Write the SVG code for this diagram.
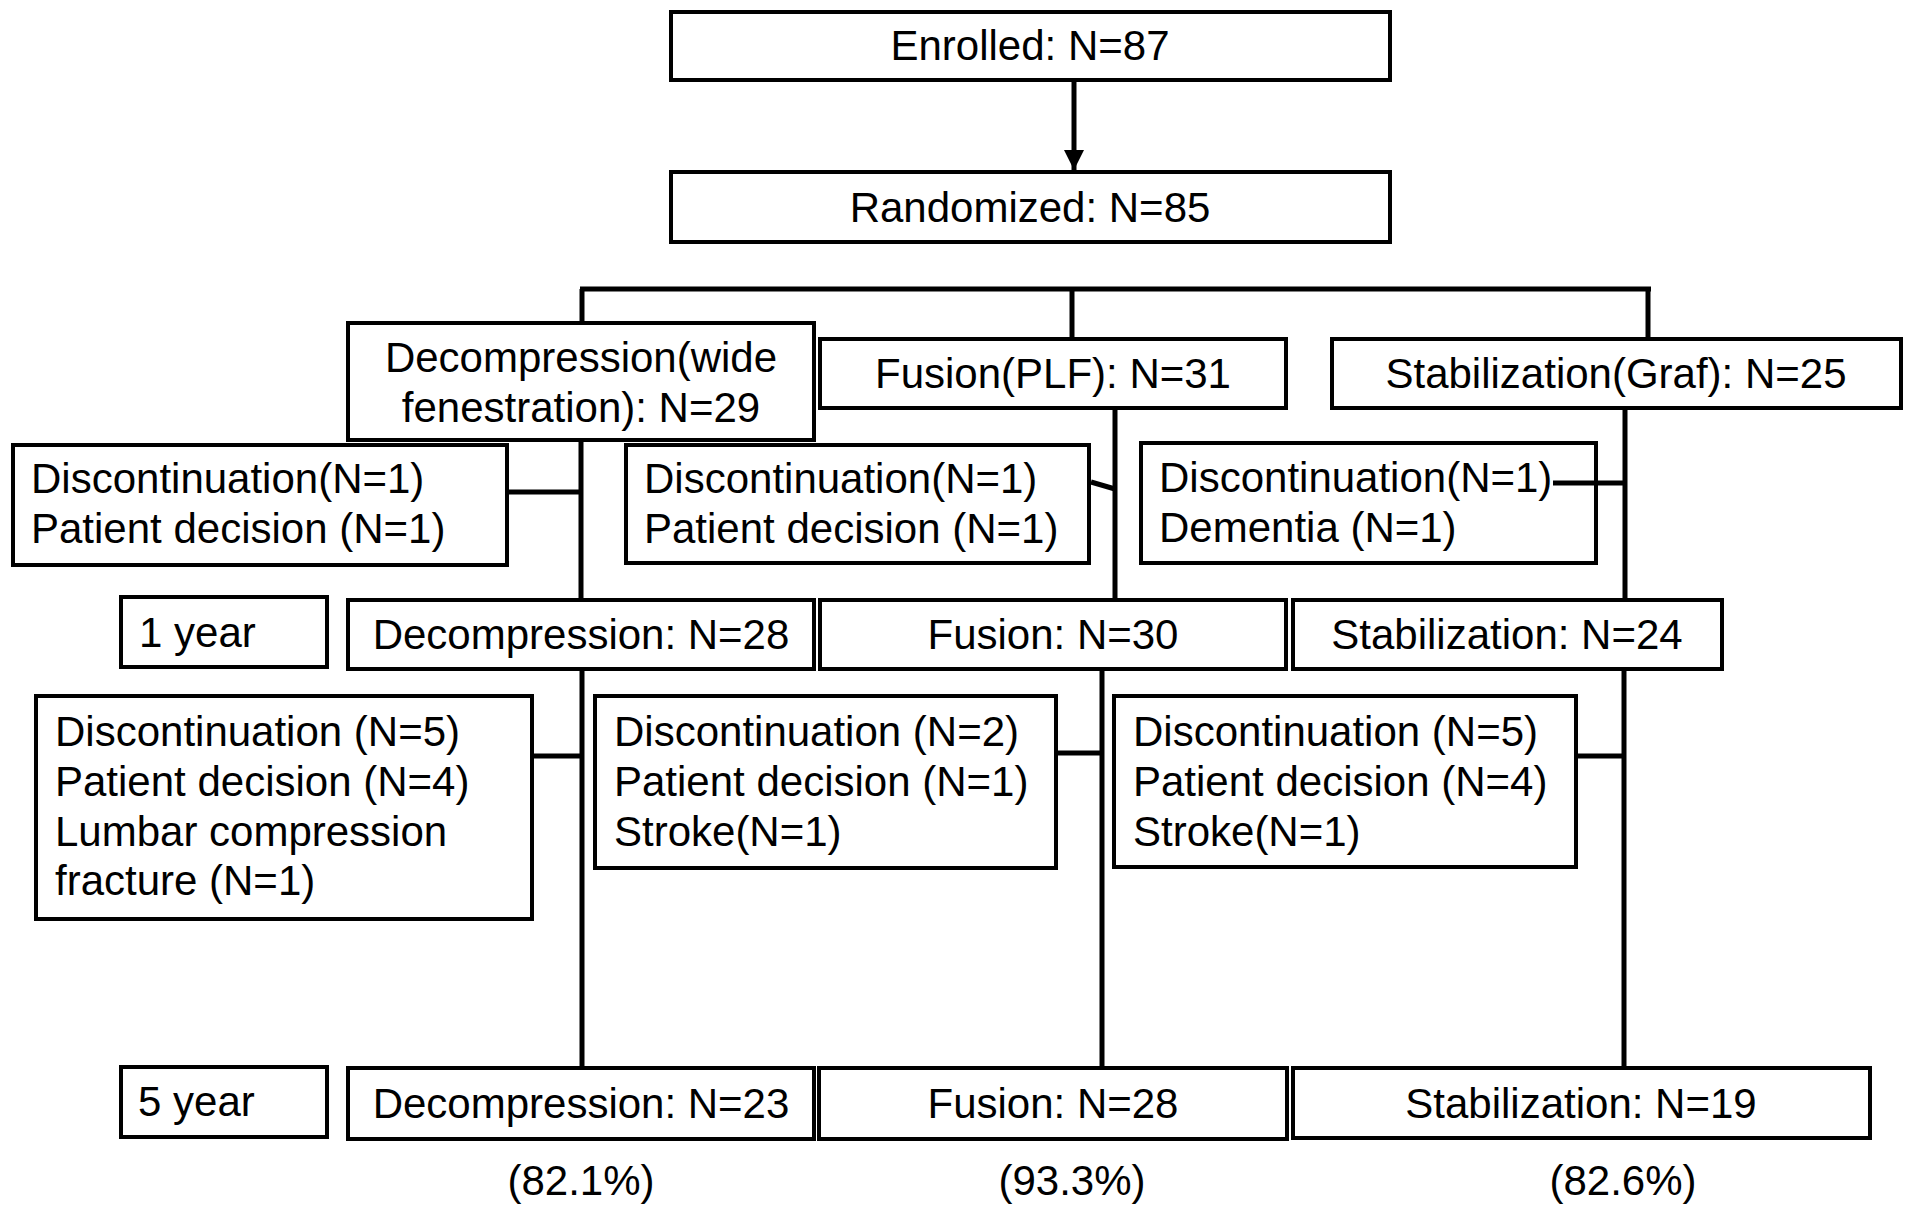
<svg xmlns="http://www.w3.org/2000/svg" width="1905" height="1206" viewBox="0 0 1905 1206">
<style>
.box{fill:#fff;stroke:#000;stroke-width:4}
.t{font-family:"Liberation Sans",Arial,sans-serif;font-size:42px;fill:#000}
.c{text-anchor:middle}
.ln{stroke:#000;stroke-width:5;fill:none}
</style>
<defs>
<marker id="ah" markerWidth="20" markerHeight="20" refX="20" refY="10" orient="auto" markerUnits="userSpaceOnUse">
<path d="M0,0 L20,10 L0,20 Z" fill="#000"/>
</marker>
</defs>
<rect width="1905" height="1206" fill="#fff"/>
<g id="enrolled"><rect class="box" x="671" y="12" width="719" height="68"/><text class="t c" x="1030" y="60">Enrolled: N=87</text></g>
<g id="randomized"><rect class="box" x="671" y="172" width="719" height="70"/><text class="t c" x="1030" y="222">Randomized: N=85</text></g>
<g id="decomp"><rect class="box" x="348" y="323" width="466" height="117"/><text class="t c" x="581" y="372">Decompression(wide</text><text class="t c" x="581" y="422">fenestration): N=29</text></g>
<g id="fusion"><rect class="box" x="820" y="339" width="466" height="69"/><text class="t c" x="1053" y="388">Fusion(PLF): N=31</text></g>
<g id="stab"><rect class="box" x="1332" y="339" width="569" height="69"/><text class="t c" x="1616" y="388">Stabilization(Graf): N=25</text></g>
<g id="disc1a"><rect class="box" x="13" y="445" width="494" height="120"/><text class="t" x="31" y="493">Discontinuation(N=1)</text><text class="t" x="31" y="543">Patient decision (N=1)</text></g>
<g id="disc1b"><rect class="box" x="626" y="445" width="463" height="118"/><text class="t" x="644" y="493">Discontinuation(N=1)</text><text class="t" x="644" y="543">Patient decision (N=1)</text></g>
<g id="disc1c"><rect class="box" x="1141" y="443" width="455" height="120"/><text class="t" x="1159" y="492">Discontinuation(N=1)</text><text class="t" x="1159" y="542">Dementia (N=1)</text></g>
<g id="year1"><rect class="box" x="121" y="597" width="206" height="70"/><text class="t" x="139" y="647">1 year</text></g>
<g id="dec28"><rect class="box" x="348" y="600" width="466" height="69"/><text class="t c" x="581" y="649">Decompression: N=28</text></g>
<g id="fus30"><rect class="box" x="820" y="600" width="466" height="69"/><text class="t c" x="1053" y="649">Fusion: N=30</text></g>
<g id="stab24"><rect class="box" x="1293" y="600" width="429" height="69"/><text class="t c" x="1507" y="649">Stabilization: N=24</text></g>
<g id="disc2a"><rect class="box" x="36" y="696" width="496" height="223"/><text class="t" x="55" y="746">Discontinuation (N=5)</text><text class="t" x="55" y="796">Patient decision (N=4)</text><text class="t" x="55" y="846">Lumbar compression</text><text class="t" x="55" y="895">fracture (N=1)</text></g>
<g id="disc2b"><rect class="box" x="595" y="696" width="461" height="172"/><text class="t" x="614" y="746">Discontinuation (N=2)</text><text class="t" x="614" y="796">Patient decision (N=1)</text><text class="t" x="614" y="846">Stroke(N=1)</text></g>
<g id="disc2c"><rect class="box" x="1114" y="696" width="462" height="171"/><text class="t" x="1133" y="746">Discontinuation (N=5)</text><text class="t" x="1133" y="796">Patient decision (N=4)</text><text class="t" x="1133" y="846">Stroke(N=1)</text></g>
<g id="year5"><rect class="box" x="121" y="1067" width="206" height="70"/><text class="t" x="138" y="1116">5 year</text></g>
<g id="dec23"><rect class="box" x="348" y="1068" width="466" height="71"/><text class="t c" x="581" y="1118">Decompression: N=23</text></g>
<g id="fus28"><rect class="box" x="819" y="1068" width="468" height="71"/><text class="t c" x="1053" y="1118">Fusion: N=28</text></g>
<g id="stab19"><rect class="box" x="1293" y="1068" width="577" height="70"/><text class="t c" x="1581" y="1118">Stabilization: N=19</text></g>
<g id="pcts"><text class="t c" x="581" y="1195">(82.1%)</text><text class="t c" x="1072" y="1195">(93.3%)</text><text class="t c" x="1623" y="1195">(82.6%)</text></g>
<g id="connectors">
<line class="ln" x1="1074" y1="82" x2="1074" y2="170" marker-end="url(#ah)"/>
<line class="ln" x1="580" y1="289" x2="1651" y2="289"/>
<line class="ln" x1="582" y1="289" x2="582" y2="321"/>
<line class="ln" x1="1072" y1="289" x2="1072" y2="337"/>
<line class="ln" x1="1648" y1="289" x2="1648" y2="337"/>
<line class="ln" x1="581" y1="442" x2="581" y2="598"/>
<line class="ln" x1="509" y1="492" x2="581" y2="492"/>
<line class="ln" x1="1115" y1="410" x2="1115" y2="600"/>
<line class="ln" x1="1091" y1="482" x2="1115" y2="489"/>
<line class="ln" x1="1625" y1="410" x2="1625" y2="598"/>
<line class="ln" x1="1553" y1="483" x2="1625" y2="483"/>
<line class="ln" x1="582" y1="671" x2="582" y2="1066"/>
<line class="ln" x1="534" y1="756" x2="582" y2="756"/>
<line class="ln" x1="1102" y1="671" x2="1102" y2="1066"/>
<line class="ln" x1="1058" y1="753" x2="1102" y2="753"/>
<line class="ln" x1="1624" y1="671" x2="1624" y2="1066"/>
<line class="ln" x1="1578" y1="756" x2="1624" y2="756"/>
</g>
</svg>
